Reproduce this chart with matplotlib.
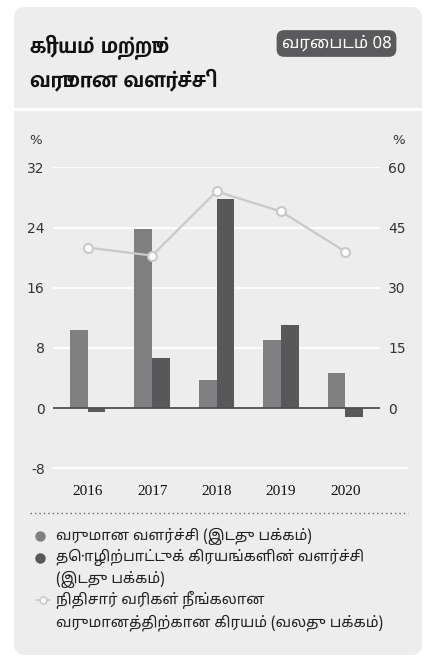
import numpy as np
import matplotlib
matplotlib.use("Agg")
from matplotlib import pyplot as plt
from matplotlib.patches import FancyBboxPatch
from matplotlib.lines import Line2D

# data
years = ['2016', '2017', '2018', '2019', '2020']
revenue_growth = [10.4, 23.8, 3.8, 9.1, 4.7]        # left axis
opex_growth = [-0.5, 6.6, 27.8, 11.1, -1.2]          # left axis
interest_to_revenue = [40, 38, 54, 49, 39]           # right axis
left_ticks = [-8, 0, 8, 16, 24, 32]
right_ticks = [0, 15, 30, 45, 60]

title_lines = ['கிரயம் மற்றும்', 'வருமான வளர்ச்சி']
badge = 'வரைபடம் 08'
legend_labels = ['வருமான வளர்ச்சி (இடது பக்கம்)',
                 'தொழிற்பாட்டுக் கிரயங்களின் வளர்ச்சி\n(இடது பக்கம்)',
                 'நிதிசார் வரிகள் நீங்கலான\nவருமானத்திற்கான கிரயம் (வலது பக்கம்)']

c_card = '#ededed'
c_bar1 = '#808083'
c_bar2 = '#58585a'
c_line = '#c9c9c9'
tamil = ['Noto Sans Tamil UI', 'FreeSans', 'DejaVu Sans']
tamil_bold = ['Mukta Malar', 'FreeSans', 'DejaVu Sans']

W, H = 433, 663
fig = plt.figure(figsize=(W / 100, H / 100), dpi=100)
fig.patch.set_facecolor('white')

def fx(px):
    return px / W

def fy(py):
    return 1 - py / H

# card background
card = FancyBboxPatch((fx(14), fy(655)), fx(408), 648 / H,
                      boxstyle='round,pad=0,rounding_size=0.025',
                      transform=fig.transFigure, fc=c_card, ec='none', mutation_aspect=W / H,
                      zorder=-10)
fig.patches.append(card)
fig.add_artist(Line2D([fx(14), fx(422)], [fy(109), fy(109)], color='white', lw=2, zorder=-5))

# title
fig.text(fx(30), fy(47), title_lines[0], family=tamil_bold, weight='bold', fontsize=16.5,
         va='center', ha='left', color='#111111')
fig.text(fx(30), fy(80), title_lines[1], family=tamil_bold, weight='bold', fontsize=16.5,
         va='center', ha='left', color='#111111')
fig.text(fx(336.5), fy(43.5), badge, family=tamil, fontsize=12, color='white', ha='center', va='center',
         bbox=dict(boxstyle='round,pad=0.3,rounding_size=0.45', fc='#5a5a5c', ec='none'))

# main axes
ax = fig.add_axes([fx(53), fy(468.3), fx(327), 301 / H])
ax.set_facecolor('none')
x = np.arange(len(years))
bw = 0.275
ax.bar(x - bw / 2, revenue_growth, bw, color=c_bar1, zorder=3)
ax.bar(x + bw / 2, opex_growth, bw, color=c_bar2, zorder=3)
ax.set_xlim(-0.54, 4.54)
ax.set_ylim(-8, 32)
ax.set_yticks(left_ticks)
ax.set_yticklabels([str(t) for t in left_ticks])
for t in left_ticks:
    if t == 0:
        ax.axhline(0, color='#4f4f4f', lw=1.3, zorder=4)
    elif t == -8:
        ax.plot([0, 354 / 327], [t, t], color='white', lw=1.3, transform=ax.get_yaxis_transform(),
                clip_on=False, zorder=1)
    else:
        ax.axhline(t, color='white', lw=1.3, zorder=1)
ax.set_xticks(x)
ax.set_xticklabels(years, family='Liberation Serif', fontsize=11, color='#111111')
ax.tick_params(axis='x', length=0, pad=12)
ax.tick_params(axis='y', length=0, pad=6, labelsize=10, labelcolor='#333333')
for s in ax.spines.values():
    s.set_visible(False)

ax2 = ax.twinx()
ax2.set_ylim(-15, 60)
ax2.set_yticks(right_ticks)
ax2.plot(x, interest_to_revenue, color=c_line, lw=1.6, marker='o', ms=6.5, mfc='white',
         mec=c_line, mew=1.5, zorder=5, clip_on=False)
ax2.tick_params(axis='y', length=0, pad=6, labelsize=10, labelcolor='#333333')
for s in ax2.spines.values():
    s.set_visible(False)

fig.text(fx(29), fy(140), '%', fontsize=9.5, color='#333333', va='center', ha='left')
fig.text(fx(405), fy(140), '%', fontsize=9.5, color='#333333', va='center', ha='right')

# legend
fig.add_artist(Line2D([fx(30), fx(408)], [fy(513), fy(513)], color='#666666', lw=1,
                      linestyle=(0, (1, 2.2))))
fig.add_artist(Line2D([fx(40)], [fy(536)], marker='o', ms=6.5, color=c_bar1, lw=0))
fig.add_artist(Line2D([fx(40)], [fy(558)], marker='o', ms=6.5, color=c_bar2, lw=0))
fig.add_artist(Line2D([fx(36), fx(50)], [fy(600), fy(600)], color=c_line, lw=1.2))
fig.add_artist(Line2D([fx(43)], [fy(600)], marker='o', ms=5, mfc='white', mec=c_line, mew=1.2, lw=0))
ys = [537, 558, 600]
for yy, lab in zip(ys, legend_labels):
    fig.text(fx(56), fy(yy - 9), lab, family=tamil, fontsize=10.7, color='#222222', va='top',
             ha='left', linespacing=1.42)

fig.savefig('out.png', dpi=100)
